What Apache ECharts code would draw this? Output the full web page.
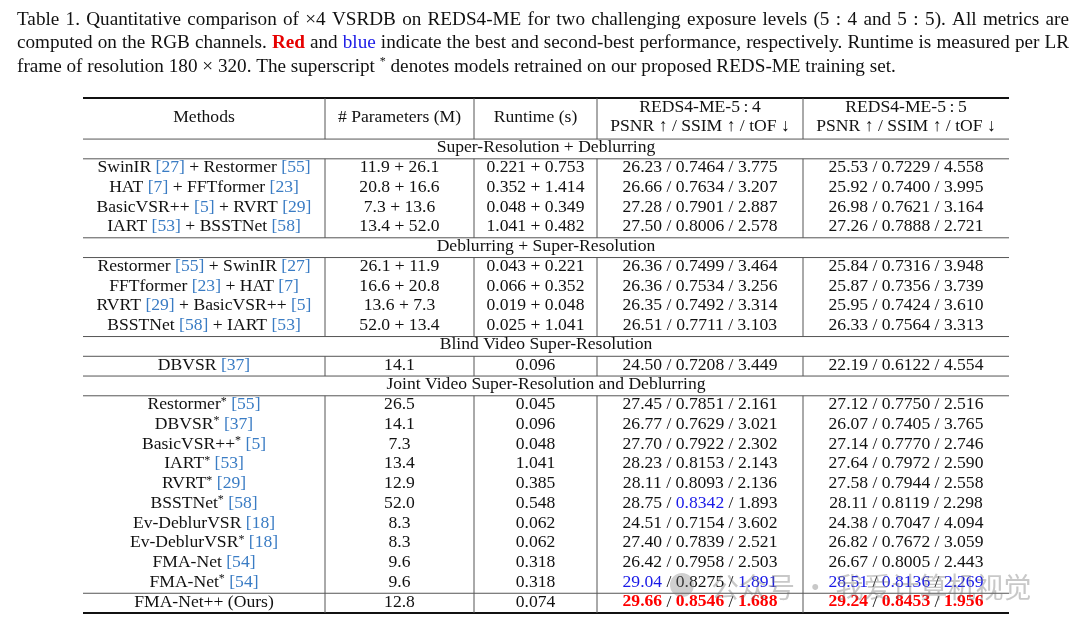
<!DOCTYPE html>
<html>
<head>
<meta charset="utf-8">
<script src="https://cdn.jsdelivr.net/npm/echarts@6/dist/echarts.min.js"></script>
<style>
html, body { margin: 0; padding: 0; background: #fff; }
#chart { width: 1080px; height: 631px; }
</style>
</head>
<body>
<div id="chart"></div>
<script>
// ---- table data ----
const sections = ['Super-Resolution + Deblurring', 'Deblurring + Super-Resolution',
  'Blind Video Super-Resolution', 'Joint Video Super-Resolution and Deblurring'];
const sectionSizes = [4, 4, 1, 10]; // the last method ("Ours") comes after the sections
const methods = [
  'SwinIR [27] + Restormer [55]', 'HAT [7] + FFTformer [23]', 'BasicVSR++ [5] + RVRT [29]', 'IART [53] + BSSTNet [58]',
  'Restormer [55] + SwinIR [27]', 'FFTformer [23] + HAT [7]', 'RVRT [29] + BasicVSR++ [5]', 'BSSTNet [58] + IART [53]',
  'DBVSR [37]',
  'Restormer* [55]', 'DBVSR* [37]', 'BasicVSR++* [5]', 'IART* [53]', 'RVRT* [29]', 'BSSTNet* [58]',
  'Ev-DeblurVSR [18]', 'Ev-DeblurVSR* [18]', 'FMA-Net [54]', 'FMA-Net* [54]',
  'FMA-Net++ (Ours)'
];
const params = ['11.9 + 26.1', '20.8 + 16.6', '7.3 + 13.6', '13.4 + 52.0', '26.1 + 11.9', '16.6 + 20.8', '13.6 + 7.3',
  '52.0 + 13.4', '14.1', '26.5', '14.1', '7.3', '13.4', '12.9', '52.0', '8.3', '8.3', '9.6', '9.6', '12.8'];
const runtime = ['0.221 + 0.753', '0.352 + 1.414', '0.048 + 0.349', '1.041 + 0.482', '0.043 + 0.221', '0.066 + 0.352',
  '0.019 + 0.048', '0.025 + 1.041', '0.096', '0.045', '0.096', '0.048', '1.041', '0.385', '0.548', '0.062', '0.062',
  '0.318', '0.318', '0.074'];
const psnr54 = [26.23, 26.66, 27.28, 27.50, 26.36, 26.36, 26.35, 26.51, 24.50, 27.45, 26.77, 27.70, 28.23, 28.11, 28.75, 24.51, 27.40, 26.42, 29.04, 29.66];
const ssim54 = [0.7464, 0.7634, 0.7901, 0.8006, 0.7499, 0.7534, 0.7492, 0.7711, 0.7208, 0.7851, 0.7629, 0.7922, 0.8153, 0.8093, 0.8342, 0.7154, 0.7839, 0.7958, 0.8275, 0.8546];
const tof54 = [3.775, 3.207, 2.887, 2.578, 3.464, 3.256, 3.314, 3.103, 3.449, 2.161, 3.021, 2.302, 2.143, 2.136, 1.893, 3.602, 2.521, 2.503, 1.891, 1.688];
const psnr55 = [25.53, 25.92, 26.98, 27.26, 25.84, 25.87, 25.95, 26.33, 22.19, 27.12, 26.07, 27.14, 27.64, 27.58, 28.11, 24.38, 26.82, 26.67, 28.51, 29.24];
const ssim55 = [0.7229, 0.7400, 0.7621, 0.7888, 0.7316, 0.7356, 0.7424, 0.7564, 0.6122, 0.7750, 0.7405, 0.7770, 0.7972, 0.7944, 0.8119, 0.7047, 0.7672, 0.8005, 0.8136, 0.8453];
const tof55 = [4.558, 3.995, 3.164, 2.721, 3.948, 3.739, 3.610, 3.313, 4.554, 2.516, 3.765, 2.746, 2.590, 2.558, 2.298, 4.094, 3.059, 2.443, 2.269, 1.956];
const headers = ['Methods', '# Parameters (M)', 'Runtime (s)'];
const setNames = ['REDS4-ME-5\u2009:\u20094', 'REDS4-ME-5\u2009:\u20095'];
const metricHeader = 'PSNR \u2191 / SSIM \u2191 / tOF \u2193';
const captionLines = [
  'Table 1.  Quantitative comparison of \u00d74 VSRDB on REDS4-ME for two challenging exposure levels (5\u2004:\u20044 and 5\u2004:\u20045).  All metrics are',
  'computed on the RGB channels. Red and blue indicate the best and second-best performance, respectively. Runtime is measured per LR',
  'frame of resolution 180 \u00d7 320. The superscript * denotes models retrained on our proposed REDS-ME training set.'
];

// ---- layout ----
const FONT = '"Liberation Serif", "Times New Roman", serif';
const FS = 17.6;
const W = 926;
const colEdges = [0, 242, 391, 514, 720, 926];
const headTop = -2.08;
const nRows = 24;

const rich = {
  c: { fill: '#3a7cc4', fontSize: FS, fontFamily: FONT },
  s: { fill: '#111', fontSize: 12, fontFamily: FONT, verticalAlign: 'top' },
  r: { fill: '#f00', fontSize: FS, fontFamily: FONT, fontWeight: 'bold' },
  b: { fill: '#1a1ae6', fontSize: FS, fontFamily: FONT }
};

function methodText(m) {
  return m.replace(/\*/g, '{s|*}').replace(/\[(\d+)\]/g, '{c|[$1]}');
}

// best (red) / second best (blue) ranks are taken from the data
const metricSets = [[psnr54, ssim54, tof54], [psnr55, ssim55, tof55]];
const digits = [2, 4, 3];
const higher = [true, true, false];
function rankOf(arr, i, hb) {
  const u = Array.from(new Set(arr)).sort((a, b) => hb ? b - a : a - b);
  return u.indexOf(arr[i]);
}
function metricText(set, i) {
  return metricSets[set].map((arr, m) => {
    const t = arr[i].toFixed(digits[m]);
    const rk = rankOf(arr, i, higher[m]);
    return rk === 0 ? '{r|' + t + '}' : rk === 1 ? '{b|' + t + '}' : t;
  }).join(' / ');
}

const cells = [];   // {x, y, text}
const hLines = [];  // [y, width]
const vSpans = [];  // [y0, y1]
const colMid = c => (colEdges[c] + colEdges[c + 1]) / 2;

headers.forEach((h, c) => cells.push({ x: colMid(c), y: -1.1, text: h }));
setNames.forEach((h, s) => {
  cells.push({ x: colMid(3 + s), y: -1.6, text: h });
  cells.push({ x: colMid(3 + s), y: -0.62, text: metricHeader });
});
hLines.push([headTop, 1.8], [0, 1]);
vSpans.push([headTop, 0]);

function addRow(k, r) {
  const y = r + 0.44;
  cells.push({ x: colMid(0), y, text: methodText(methods[k]) });
  cells.push({ x: colMid(1), y, text: params[k] });
  cells.push({ x: colMid(2), y, text: runtime[k] });
  cells.push({ x: colMid(3), y, text: metricText(0, k) });
  cells.push({ x: colMid(4), y, text: metricText(1, k) });
}

let r = 0, k = 0;
sections.forEach((s, si) => {
  cells.push({ x: W / 2, y: r + 0.42, text: s });
  r++;
  hLines.push([r, 1]);
  const start = r;
  for (let j = 0; j < sectionSizes[si]; j++) addRow(k++, r++);
  vSpans.push([start, r]);
  hLines.push([r, 1]);
});
const oursStart = r;
addRow(k++, r++);
vSpans.push([oursStart, r]);
hLines.push([r, 1.8]);

// ---- caption (justified like the paper) ----
const ctx = document.createElement('canvas').getContext('2d');
function tw(t, font) { ctx.font = font; return ctx.measureText(t).width; }
const capLeft = 17, capRight = 1069;
// size the caption so the last (unjustified) line is as long as in the paper
const capFs = Math.min(20, Math.max(17, 18 * 883 / tw(captionLines[2], '18px ' + FONT)));
const capFont = capFs + 'px ' + FONT;
const capBold = 'bold ' + capFs + 'px ' + FONT;
const capY = [20, 43, 67];
const graphics = [];
captionLines.forEach((line, li) => {
  const words = line.split(/ +/);
  const fonts = words.map(w => w === 'Red' ? capBold : (w === '*' ? '12px ' + FONT : capFont));
  const widths = words.map((w, i) => tw(w, fonts[i]));
  const total = widths.reduce((a, b) => a + b, 0);
  const justify = li < captionLines.length - 1;
  const gap = justify ? (capRight - capLeft - total) / (words.length - 1) : tw(' ', capFont);
  let x = capLeft;
  words.forEach((w, i) => {
    graphics.push({
      type: 'text', x: x, y: capY[li] + (w === '*' ? -5 : 0),
      style: {
        text: w, font: fonts[i], verticalAlign: 'middle', align: 'left',
        fill: w === 'Red' ? '#e60000' : (w === 'blue' ? '#1a1ae6' : '#111')
      }
    });
    x += widths[i] + gap;
  });
});
// watermark
graphics.push({
  type: 'circle', shape: { cx: 682, cy: 585, r: 12 },
  style: { fill: 'rgba(120,120,120,0.35)' }, z: 100
});
graphics.push({
  type: 'text', x: 711, y: 587, z: 100,
  style: {
    text: '公众号 · 我爱计算机视觉', font: '28px "Noto Sans CJK SC"',
    fill: 'rgba(110,110,110,0.38)', verticalAlign: 'middle', align: 'left'
  }
});

const chart = echarts.init(document.getElementById('chart'));
chart.setOption({
  animation: false,
  backgroundColor: '#fff',
  grid: { left: 83, top: 98, width: W, height: 515 },
  xAxis: { type: 'value', min: 0, max: W, show: false },
  yAxis: { type: 'value', min: headTop, max: nRows, inverse: true, show: false },
  graphic: graphics,
  series: [
    {
      type: 'custom',
      data: hLines,
      renderItem: (params, api) => {
        const y = api.value(0);
        const p0 = api.coord([0, y]), p1 = api.coord([W, y]);
        return {
          type: 'line',
          shape: { x1: p0[0], y1: p0[1], x2: p1[0], y2: p1[1] },
          style: { stroke: api.value(1) > 1.5 ? '#111' : '#555', lineWidth: api.value(1) }
        };
      }
    },
    {
      type: 'custom',
      data: vSpans.flatMap(s => [1, 2, 3, 4].map(c => [colEdges[c], s[0], s[1]])),
      renderItem: (params, api) => {
        const p0 = api.coord([api.value(0), api.value(1)]);
        const p1 = api.coord([api.value(0), api.value(2)]);
        return {
          type: 'line',
          shape: { x1: p0[0], y1: p0[1], x2: p1[0], y2: p1[1] },
          style: { stroke: '#555', lineWidth: 1 }
        };
      }
    },
    {
      type: 'custom',
      data: cells.map(c => [c.x, c.y]),
      renderItem: (params, api) => {
        const p = api.coord([api.value(0), api.value(1)]);
        return {
          type: 'text', x: p[0], y: p[1],
          style: {
            text: cells[params.dataIndex].text, rich: rich,
            fontSize: FS, fontFamily: FONT, fill: '#111',
            align: 'center', verticalAlign: 'middle'
          }
        };
      }
    }
  ]
});
</script>
</body>
</html>
